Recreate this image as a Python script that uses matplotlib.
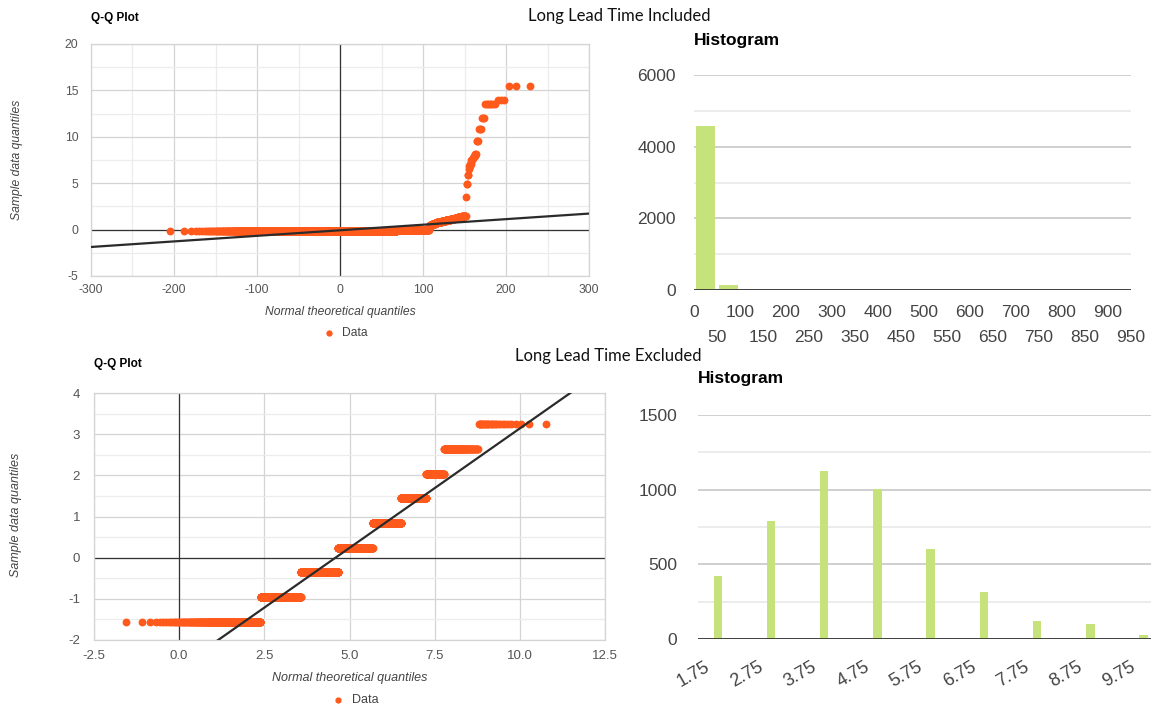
import numpy as np
import matplotlib
matplotlib.use("Agg")
import matplotlib.pyplot as plt
from matplotlib.ticker import MultipleLocator, FixedLocator
from statistics import NormalDist

plt.rcParams["font.family"] = ["Liberation Sans", "DejaVu Sans"]
plt.rcParams["axes.unicode_minus"] = False

# ---- lead time data (days) ----
# regular orders: lead time value and number of orders
short_days = [2, 3, 4, 5, 6, 7, 8, 9, 10]
short_counts = [422, 792, 1125, 1007, 600, 312, 123, 100, 27]

# long lead time orders: lead time value and number of orders
long_days = [12, 15, 18, 21, 24, 27, 30, 33, 36,
             39, 41, 43, 45, 47, 49, 51, 53, 55,
             57, 59, 61, 63, 65, 67, 69,
             71, 73, 75, 77, 79,
             83, 86, 89, 92, 95, 98,
             219, 300, 357, 395, 410, 425, 452, 462, 475, 490,
             569, 644, 716, 805, 825, 915]
long_counts = [2, 2, 2, 2, 2, 2, 2, 2, 2,
               6, 6, 7, 7, 8, 8, 7, 7, 6,
               8, 8, 8, 8, 8, 8, 9,
               8, 8, 8, 8, 9,
               6, 6, 6, 6, 6, 5,
               1, 2, 2, 1, 2, 2, 2, 2, 2, 2,
               3, 3, 3, 7, 3, 3]

hist_top_ticks = list(range(0, 1000, 50))
hist_bottom_ticks = [1.75, 2.75, 3.75, 4.75, 5.75, 6.75, 7.75, 8.75, 9.75]

ORANGE = "#ff5a1c"
GREEN = "#c6e27a"
W, H = 1151, 704

excluded = np.repeat(short_days, short_counts).astype(float)
included = np.concatenate([excluded, np.repeat(long_days, long_counts).astype(float)])


def qq_points(values):
    v = np.sort(values)
    n = len(v)
    m, s = v.mean(), v.std(ddof=1)
    nd = NormalDist()
    z = np.array([nd.inv_cdf((i - 0.5) / n) for i in range(1, n + 1)])
    return m + s * z, (v - m) / s


fig = plt.figure(figsize=(W / 100, H / 100), dpi=100)


def px_axes(left, top, right, bottom):
    return fig.add_axes([left / W, 1 - bottom / H, (right - left) / W, (bottom - top) / H])


def style_qq(ax, xlim, ylim, xmaj, xmin, ymaj, ymin, fs, xpad, ypad):
    ax.set_xlim(*xlim)
    ax.set_ylim(*ylim)
    ax.xaxis.set_major_locator(MultipleLocator(xmaj))
    ax.yaxis.set_major_locator(MultipleLocator(ymaj))
    if xmin:
        ax.xaxis.set_minor_locator(MultipleLocator(xmin))
    ax.yaxis.set_minor_locator(MultipleLocator(ymin))
    ax.grid(which="major", color="#d4d4d4", lw=0.9)
    ax.grid(which="minor", color="#ececec", lw=0.9)
    ax.set_axisbelow(True)
    for sp in ax.spines.values():
        sp.set_color("#d4d4d4")
        sp.set_linewidth(0.9)
    ax.tick_params(which="both", length=0, labelsize=fs, colors="#555555")
    ax.tick_params(axis="x", pad=xpad)
    ax.tick_params(axis="y", pad=ypad)
    ax.axhline(0, color="#333333", lw=0.9, zorder=1.5)
    ax.axvline(0, color="#333333", lw=0.9, zorder=1.5)


def draw_qq(ax, values, xlim):
    x, y = qq_points(values)
    sc = ax.scatter(x, y, s=32, color=ORANGE, linewidths=0, zorder=3, label="Data")
    slope, icpt = np.polyfit(x, y, 1)
    xx = np.array(xlim, dtype=float)
    ax.plot(xx, slope * xx + icpt, color="#2b2b2b", lw=1.6, zorder=4)
    return sc


def style_hist(ax, ylim, ymaj, ymin, pad):
    ax.set_ylim(*ylim)
    ax.yaxis.set_major_locator(MultipleLocator(ymaj))
    ax.yaxis.set_minor_locator(MultipleLocator(ymin))
    ax.grid(axis="y", which="major", color="#cccccc", lw=1.3)
    ax.grid(axis="y", which="minor", color="#ebebeb", lw=1.3)
    ax.set_axisbelow(True)
    for sp in ax.spines.values():
        sp.set_visible(False)
    ax.axhline(0, color="#333333", lw=2.0, zorder=3)
    ax.tick_params(axis="y", which="both", length=0, labelsize=12.5, colors="#444444", pad=pad)


# ---------------- Included: Q-Q plot ----------------
ax1 = px_axes(91, 44, 589, 276)
style_qq(ax1, (-300, 300), (-5, 20), 100, 50, 5, 2.5, 8.7, 6, 9)
sc1 = draw_qq(ax1, included, (-300, 300))
fig.text(91 / W, 1 - 18 / H, "Q-Q Plot", fontsize=8.5, fontweight="bold", va="center", ha="left")
fig.text(17 / W, 1 - 160 / H, "Sample data quantiles", fontsize=8.7, style="italic",
         color="#444444", rotation=90, ha="center", va="center")
fig.text(340 / W, 1 - 312 / H, "Normal theoretical quantiles", fontsize=8.7, style="italic",
         color="#444444", ha="center", va="center")
fig.legend(handles=[sc1], loc="center", bbox_to_anchor=(345 / W, 1 - 333 / H), frameon=False,
           fontsize=8.7, handletextpad=0.6, markerscale=0.8, borderpad=0, handlelength=1.0,
           labelcolor="#444444")

# ---------------- Included: histogram ----------------
ax2 = px_axes(694, 75, 1131, 290)
style_hist(ax2, (0, 6000), 2000, 1000, 13)
edges = np.arange(0, 951, 50)
counts, _ = np.histogram(included, bins=edges)
ax2.bar((edges[:-1] + edges[1:]) / 2, counts, width=43, color=GREEN, zorder=2)
ax2.set_xlim(0, 950)
ax2.xaxis.set_major_locator(FixedLocator(hist_top_ticks[0::2]))
ax2.xaxis.set_minor_locator(FixedLocator(hist_top_ticks[1::2]))
ax2.set_xticklabels([str(t) for t in hist_top_ticks[0::2]])
ax2.set_xticklabels([str(t) for t in hist_top_ticks[1::2]], minor=True)
ax2.tick_params(axis="x", which="both", length=0, labelsize=12.5, colors="#444444")
ax2.tick_params(axis="x", which="major", pad=11)
ax2.tick_params(axis="x", which="minor", pad=29)
fig.text(694 / W, 1 - 41 / H, "Histogram", fontsize=12.5, fontweight="bold", ha="left", va="center")

# ---------------- Excluded: Q-Q plot ----------------
ax3 = px_axes(94, 393, 605, 640)
style_qq(ax3, (-2.5, 12.5), (-2, 4), 2.5, None, 1, 0.5, 9.5, 7, 10)
sc3 = draw_qq(ax3, excluded, (-2.5, 12.5))
fig.text(94 / W, 1 - 364 / H, "Q-Q Plot", fontsize=8.5, fontweight="bold", va="center", ha="left")
fig.text(16 / W, 1 - 515 / H, "Sample data quantiles", fontsize=9, style="italic",
         color="#444444", rotation=90, ha="center", va="center")
fig.text(350 / W, 1 - 678 / H, "Normal theoretical quantiles", fontsize=9, style="italic",
         color="#444444", ha="center", va="center")
fig.legend(handles=[sc3], loc="center", bbox_to_anchor=(355 / W, 1 - 700 / H), frameon=False,
           fontsize=9, handletextpad=0.6, markerscale=0.8, borderpad=0, handlelength=1.0,
           labelcolor="#444444")

# ---------------- Excluded: histogram ----------------
ax4 = px_axes(698, 415, 1151, 639)
style_hist(ax4, (0, 1500), 500, 250, 15)
ax4.bar(short_days, short_counts, width=0.16, color=GREEN, zorder=2)
ax4.set_xlim(1.628, 10.14)
ax4.set_xticks(hist_bottom_ticks)
ax4.set_xticklabels([f"{t:.2f}" for t in hist_bottom_ticks], rotation=30, ha="right",
                    rotation_mode="anchor")
ax4.tick_params(axis="x", length=0, labelsize=13, colors="#444444", pad=14)
fig.text(698 / W, 1 - 379 / H, "Histogram", fontsize=12.5, fontweight="bold", ha="left", va="center")

# ---------------- section headings ----------------
fig.text(619 / W, 1 - 16 / H, "Long Lead Time Included", fontsize=12, family=["Lato", "DejaVu Sans"],
         ha="center", va="center", color="#111111")
fig.text(608 / W, 1 - 356 / H, "Long Lead Time Excluded", fontsize=12, family=["Lato", "DejaVu Sans"],
         ha="center", va="center", color="#111111")

fig.savefig("out.png", dpi=100, facecolor="white")
